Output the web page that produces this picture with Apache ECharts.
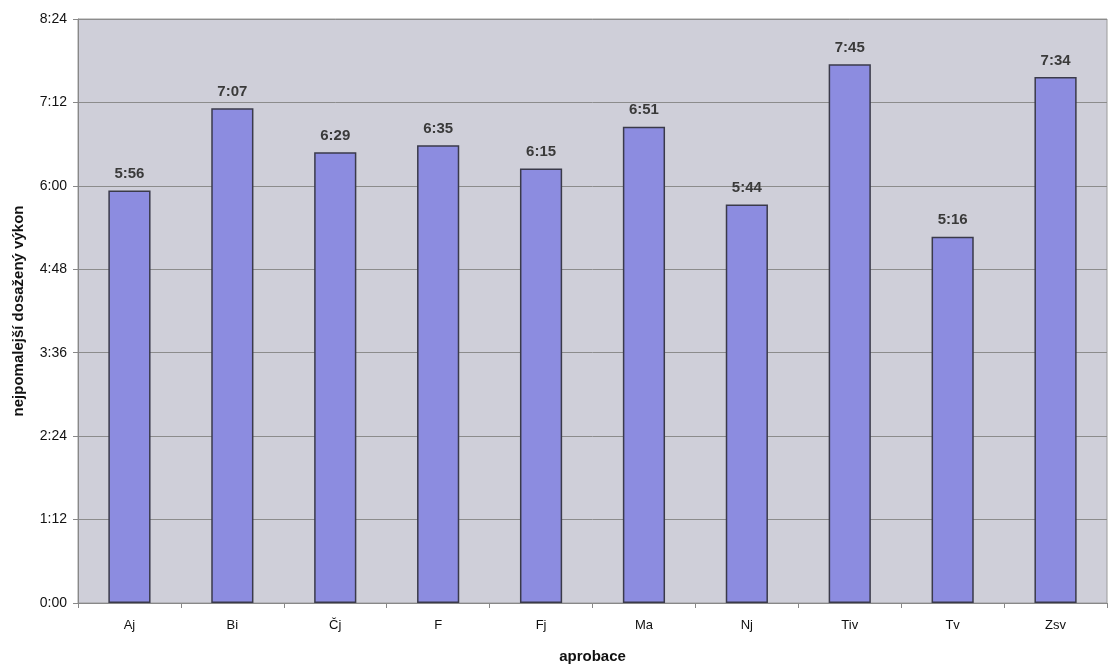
<!DOCTYPE html>
<html>
<head>
<meta charset="utf-8">
<script src="https://cdn.jsdelivr.net/npm/echarts@6/dist/echarts.min.js"></script>
<style>
  html, body { margin: 0; padding: 0; background: #ffffff; }
  #chart { width: 1110px; height: 666px; }
</style>
</head>
<body>
<div id="chart"></div>
<script>
// Subject groups (aprobace) and their slowest achieved time, in seconds
const categories = ['Aj', 'Bi', 'Čj', 'F', 'Fj', 'Ma', 'Nj', 'Tiv', 'Tv', 'Zsv'];
const slowestSeconds = [356, 427, 389, 395, 375, 411, 344, 465, 316, 454];
// Y axis range in seconds: 0:00 to 8:24, step 1:12
const yMin = 0;
const yMax = 504;
const yStep = 72;

function mmss(v) {
  const m = Math.floor(v / 60);
  const s = Math.round(v - m * 60);
  return m + ':' + (s < 10 ? '0' : '') + s;
}

const chart = echarts.init(document.getElementById('chart'), null, { renderer: 'canvas' });
chart.setOption({
  animation: false,
  backgroundColor: '#ffffff',
  textStyle: { fontFamily: 'Liberation Sans, Arial, sans-serif' },
  grid: {
    left: 78, right: 3, top: 19, bottom: 63,
    containLabel: false,
    outerBoundsMode: 'none',
    show: true,
    backgroundColor: '#cfcfd9',
    borderColor: '#9a9a9a',
    borderWidth: 1
  },
  xAxis: {
    type: 'category',
    data: categories,
    name: 'aprobace',
    nameLocation: 'middle',
    nameGap: 46,
    nameTextStyle: { fontSize: 15, fontWeight: 'bold', color: '#111' },
    axisLine: { lineStyle: { color: '#888', width: 1 } },
    axisTick: { show: true, alignWithLabel: false, length: 5, lineStyle: { color: '#888' } },
    axisLabel: { fontSize: 13, color: '#111', margin: 16 }
  },
  yAxis: {
    type: 'value',
    min: yMin,
    max: yMax,
    interval: yStep,
    name: 'nejpomalejší dosažený výkon',
    nameLocation: 'middle',
    nameGap: 52,
    nameTextStyle: { fontSize: 15, fontWeight: 'bold', color: '#111' },
    axisLine: { show: true, lineStyle: { color: '#888' } },
    axisTick: { show: true, length: 5, lineStyle: { color: '#888' } },
    axisLabel: { fontSize: 14, color: '#111', margin: 11, formatter: mmss },
    splitLine: { show: true, lineStyle: { color: '#8c8c8c', width: 1 } }
  },
  series: [{
    type: 'bar',
    data: slowestSeconds,
    barWidth: '41%',
    itemStyle: { color: '#8c8ce0', borderColor: '#3a3a4a', borderWidth: 1.5 },
    label: {
      show: true,
      position: 'top',
      distance: 9,
      fontSize: 15,
      fontWeight: 'bold',
      color: '#3a3a3a',
      formatter: p => mmss(p.value)
    }
  }]
});
</script>
</body>
</html>
